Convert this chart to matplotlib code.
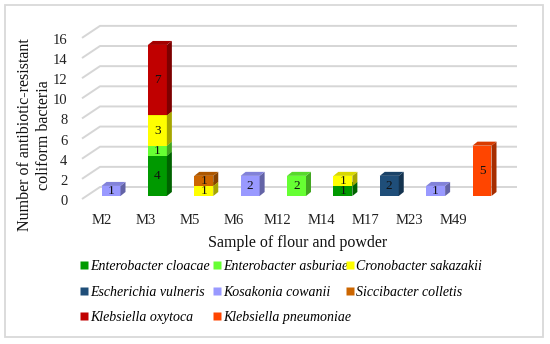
import matplotlib
matplotlib.use("Agg")
import matplotlib.pyplot as plt
import numpy as np
from matplotlib.patches import Polygon, Rectangle
from matplotlib.lines import Line2D
from matplotlib.transforms import ScaledTranslation
import matplotlib.colors as mcolors

# ---------------- data ----------------
samples = ["M2", "M3", "M5", "M6", "M12", "M14", "M17", "M23", "M49"]
species = ["Enterobacter cloacae", "Enterobacter asburiae", "Cronobacter sakazakii",
           "Escherichia vulneris", "Kosakonia cowanii", "Siccibacter colletis",
           "Klebsiella oxytoca", "Klebsiella pneumoniae"]
enterobacter_cloacae = [0, 4, 0, 0, 0, 1, 0, 0, 0]
enterobacter_asburiae = [0, 1, 0, 0, 2, 0, 0, 0, 0]
cronobacter_sakazakii = [0, 3, 1, 0, 0, 1, 0, 0, 0]
escherichia_vulneris = [0, 0, 0, 0, 0, 0, 2, 0, 0]
kosakonia_cowanii = [1, 0, 0, 2, 0, 0, 0, 1, 0]
siccibacter_colletis = [0, 0, 1, 0, 0, 0, 0, 0, 0]
klebsiella_oxytoca = [0, 7, 0, 0, 0, 0, 0, 0, 0]
klebsiella_pneumoniae = [0, 0, 0, 0, 0, 0, 0, 0, 5]
series = [enterobacter_cloacae, enterobacter_asburiae, cronobacter_sakazakii,
          escherichia_vulneris, kosakonia_cowanii, siccibacter_colletis,
          klebsiella_oxytoca, klebsiella_pneumoniae]
colors = ["#009900", "#66FF33", "#FFFF00", "#1F4E79",
          "#9999FF", "#CC6600", "#C00000", "#FF4500"]
yticks = list(range(0, 17, 2))

# ---------------- layout (pixels) ----------------
W, H = 550, 344
fig = plt.figure(figsize=(W / 100, H / 100), dpi=100)
SERIF = ["Liberation Serif", "DejaVu Serif"]

def fx(px):
    return px / W

def fy(py):
    return 1 - py / H

AX_L, AX_R, AX_T, AX_B = 80, 520, 20, 200
ax = fig.add_axes([fx(AX_L), fy(AX_B), (AX_R - AX_L) / W, (AX_B - AX_T) / H])
X0, XS = 111, 46.375   # pixel of first bar centre, px per category
Y0, YS = 196, 10.07    # pixel of value 0, px per unit
ax.set_xlim((AX_L - X0) / XS, (AX_R - X0) / XS)
ax.set_ylim(-(AX_B - Y0) / YS, (Y0 - AX_T) / YS)
for s in ax.spines.values():
    s.set_visible(False)
ax.patch.set_visible(False)
ax.set_xticks([])

# 3D style constants (data units)
BACK_DY = 9 / YS
FRONT_DY = -3 / YS
X_FRONT = (82 - X0) / XS
X_BACK = (100 - X0) / XS
X_END = (517 - X0) / XS
BAR_W = 19 / XS
DX = 5 / XS
DY = 4 / YS
GRID_C = "#D6D6D6"

# gridlines (back wall + floor slant)
for v in yticks:
    ax.plot([X_FRONT, X_BACK, X_END], [v + FRONT_DY, v + BACK_DY, v + BACK_DY],
            color=GRID_C, lw=1.4, zorder=1, solid_capstyle="butt")

ax.set_yticks(yticks)
ax.set_yticklabels([str(v) for v in yticks], fontsize=10.5, family=SERIF, color="#222222")
ax.tick_params(axis="y", length=0, pad=9)
for lab in ax.get_yticklabels():
    lab.set_transform(lab.get_transform() + ScaledTranslation(0, -0.04, fig.dpi_scale_trans))

def shade(c, f):
    r, g, b = mcolors.to_rgb(c)
    return (r * f, g * f, b * f)

x = np.arange(len(samples))
bottom = np.zeros(len(samples))
for vals, col in zip(series, colors):
    vals = np.array(vals, dtype=float)
    for i in range(len(samples)):
        h = vals[i]
        if h <= 0:
            continue
        x0 = x[i] - BAR_W / 2
        x1 = x[i] + BAR_W / 2
        y0 = bottom[i]
        y1 = y0 + h
        ax.add_patch(Rectangle((x0, y0), BAR_W, h, facecolor=col, edgecolor="none", zorder=3))
        ax.add_patch(Polygon([(x1, y0), (x1 + DX, y0 + DY), (x1 + DX, y1 + DY), (x1, y1)],
                             closed=True, facecolor=shade(col, 0.65), edgecolor="none", zorder=3))
        ax.add_patch(Polygon([(x0, y1), (x1, y1), (x1 + DX, y1 + DY), (x0 + DX, y1 + DY)],
                             closed=True, facecolor=shade(col, 0.85), edgecolor="none", zorder=3))
        ax.text(x[i], y0 + h / 2, f"{int(h)}", ha="center", va="center",
                fontsize=9.5, family=SERIF, color="#111111", zorder=5)
    bottom += vals

# category labels on the front plane (perspective)
LX0, LXS = 102, 43.9
ax2 = ax.twiny()
ax2.set_xlim((AX_L - LX0) / LXS, (AX_R - LX0) / LXS)
ax2.xaxis.set_ticks_position("bottom")
ax2.set_xticks(np.arange(len(samples)))
ax2.set_xticklabels(samples, fontsize=10.5, family=SERIF, color="#222222")
ax2.tick_params(axis="x", length=0, pad=10)
for s in ax2.spines.values():
    s.set_visible(False)

fig.text(fx(298), fy(243), "Sample of flour and powder", ha="center", va="center",
         fontsize=11.5, family=SERIF, color="#111111")
fig.text(fx(35), fy(135), "Number of antibiotic-resistant\ncoliform bacteria", ha="center",
         va="center", rotation=90, fontsize=11.5, family=SERIF, color="#111111",
         linespacing=1.25)

# legend: three fixed-width columns, row-major order
cols_x = [80, 213, 346]
for c in range(3):
    idx = [k for k in range(len(species)) if k % 3 == c]
    handles = [Line2D([], [], marker="s", linestyle="none", markersize=5.5,
                      markerfacecolor=colors[k], markeredgecolor="none") for k in idx]
    fig.legend(handles, [species[k] for k in idx], loc="upper left",
               bbox_to_anchor=(fx(cols_x[c]), fy(260)), frameon=False,
               prop={"family": SERIF, "style": "italic", "size": 10},
               handlelength=0.6, handletextpad=0.15, borderpad=0, borderaxespad=0,
               labelspacing=0.9)

fig.add_artist(Rectangle((fx(5), fy(337)), fx(538), (332) / H, transform=fig.transFigure,
                         facecolor="none", edgecolor="#D9D9D9", lw=1.3))

fig.savefig("out.png", dpi=100)
